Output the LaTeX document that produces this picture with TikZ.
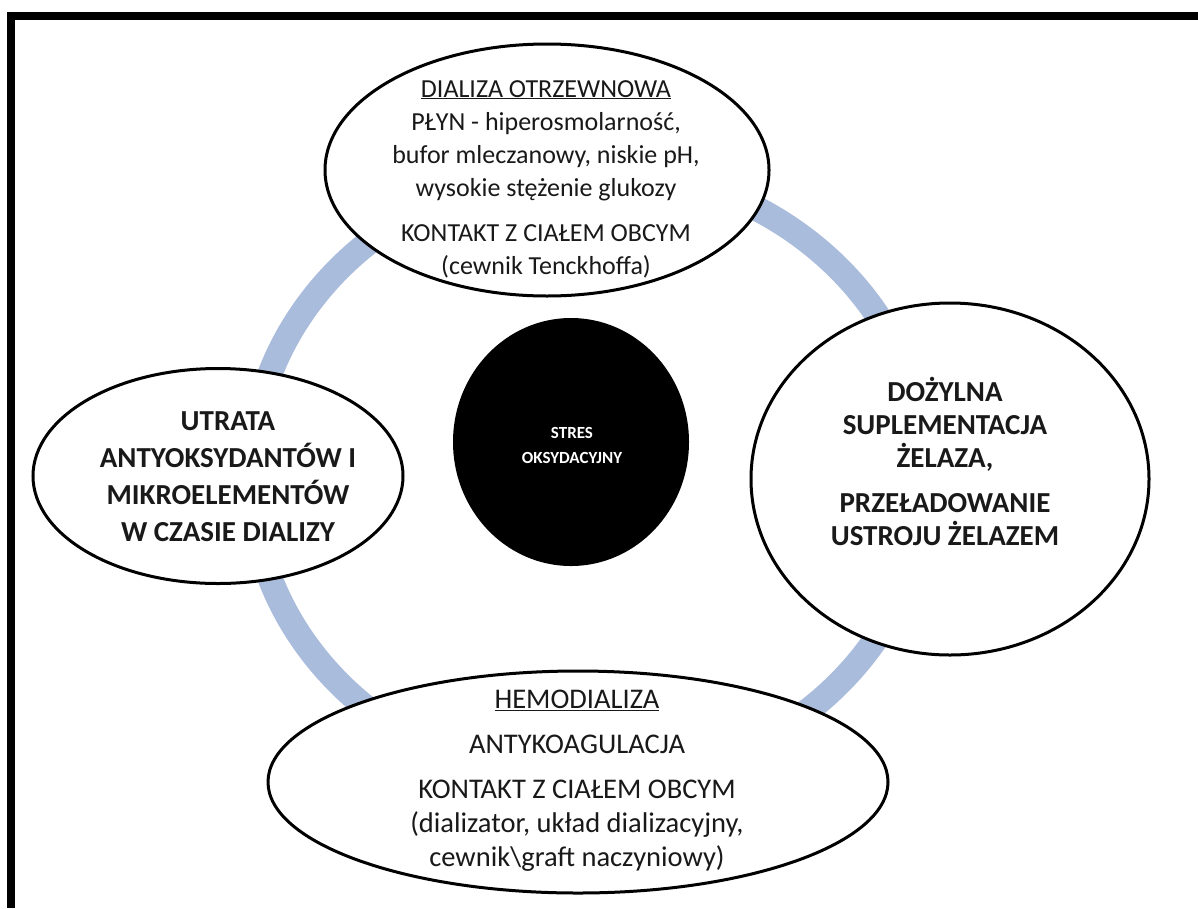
\documentclass[tikz,border=0pt]{standalone}
\usepackage{fontspec}
\setmainfont{Carlito}
\usetikzlibrary{shapes.geometric}
\definecolor{ringblue}{RGB}{170,188,220}
\definecolor{inktext}{RGB}{25,25,25}
\tikzset{
  bubble/.style={ellipse, draw=black, line width=3pt, fill=white, inner sep=0pt},
  core/.style={ellipse, fill=black, inner sep=0pt},
  txt/.style={align=center, inner sep=0pt, text=inktext, font=\fontsize{26}{33}\selectfont},
  boldtxt/.style={align=center, inner sep=0pt, text=inktext, font=\fontsize{29}{33}\selectfont\bfseries},
  coretxt/.style={align=center, inner sep=0pt, text=white, font=\fontsize{17}{25}\selectfont\bfseries},
  ring/.style={draw=ringblue, line width=25pt}
}
\begin{document}
\begin{tikzpicture}[x=1pt, y=-1pt]
\useasboundingbox (0,0) rectangle (1198,908);
% page frame (top and left edges)
\fill[black] (7,12) rectangle (1198,20);
\fill[black] (7,12) rectangle (15,908);

% cycle ring behind the bubbles
\draw[ring] (589,476) ellipse [x radius=338, y radius=308];

% bubbles
\node[bubble, minimum width=444pt, minimum height=252pt] (pd) at (547,170) {};
\node[bubble, minimum width=398pt, minimum height=352pt] (iron) at (950,479) {};
\node[bubble, minimum width=370pt, minimum height=215pt] (loss) at (218,476) {};
\node[bubble, minimum width=620pt, minimum height=222pt] (hd) at (578,782) {};
\node[core, minimum width=236pt, minimum height=248pt] (stress) at (571,442) {};

% texts
\node[txt, anchor=north] (pdt) at (546,80)
  {\underline{DIALIZA OTRZEWNOWA}\\
   PŁYN - hiperosmolarność,\\
   bufor mleczanowy, niskie pH,\\
   wysokie stężenie glukozy\\[12pt]
   KONTAKT Z CIAŁEM OBCYM\\
   (cewnik Tenckhoffa)};

\node[boldtxt, anchor=north] (iront) at (945,377)
  {DOŻYLNA\\
   SUPLEMENTACJA\\
   ŻELAZA,\\[12pt]
   PRZEŁADOWANIE\\
   USTROJU ŻELAZEM};

\node[boldtxt, anchor=north, font=\fontsize{29}{37}\selectfont\bfseries] (losst) at (228,411)
  {UTRATA\\
   ANTYOKSYDANTÓW I\\
   MIKROELEMENTÓW\\
   W CZASIE DIALIZY};

\node[txt, anchor=north, font=\fontsize{28.5}{34}\selectfont] (hdt) at (577,690)
  {\underline{HEMODIALIZA}\\[11pt]
   ANTYKOAGULACJA\\[11pt]
   KONTAKT Z CIAŁEM OBCYM\\
   (dializator, układ dializacyjny,\\
   cewnik\textbackslash graft naczyniowy)};

\node[coretxt] (stresst) at (572,445) {STRES\\ OKSYDACYJNY};
\end{tikzpicture}
\end{document}
